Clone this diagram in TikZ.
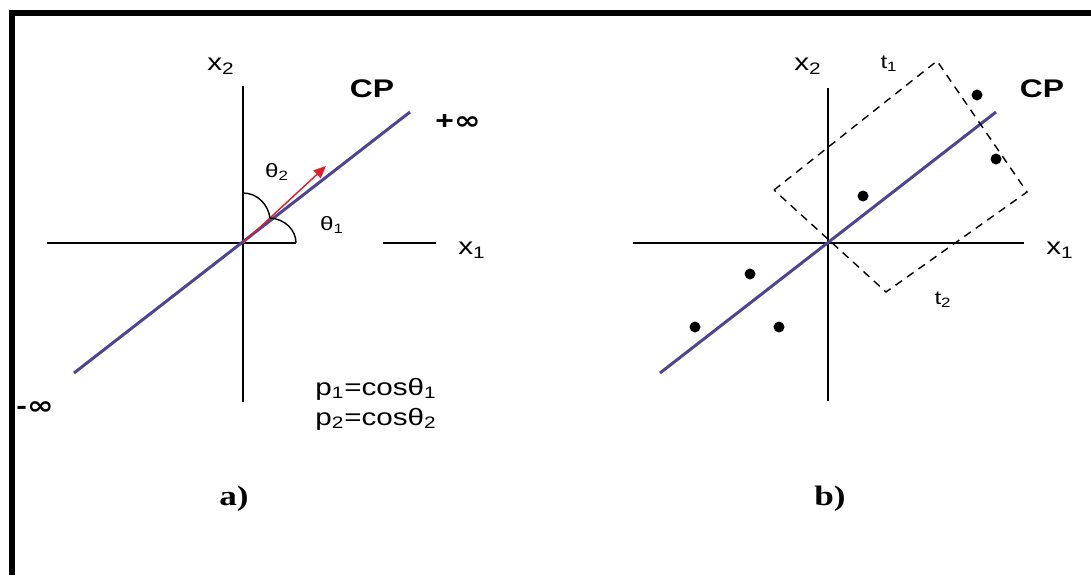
\documentclass[tikz,border=0pt]{standalone}
\usepackage{fontspec}
\setmainfont{Liberation Sans}[FakeStretch=1.25]
\newfontfamily\serifbold{Liberation Serif}[FakeStretch=1.25]
\newfontfamily\symfont{DejaVu Sans}[FakeStretch=1.25]
\usetikzlibrary{arrows.meta}
\definecolor{cpblue}{RGB}{78,68,148}
\definecolor{vecred}{RGB}{225,30,40}

\begin{document}
\begin{tikzpicture}[
  x=0.02cm,y=-0.02cm,
  axis/.style={line width=0.9pt},
  cpline/.style={draw=cpblue,line width=1.7pt},
  vec/.style={-{Triangle[length=7pt,width=6pt]},draw=vecred,fill=vecred,line width=0.8pt},
  angarc/.style={line width=0.8pt},
  window/.style={dash pattern=on 4.5pt off 3.5pt,line width=0.8pt},
  dot/.style={circle,fill,inner sep=0pt,minimum size=0.22cm},
  lbl/.style={inner sep=0pt,font=\fontsize{13.5}{16}\selectfont},
  small/.style={inner sep=0pt,font=\fontsize{11}{13}\selectfont},
  cp/.style={inner sep=0pt,font=\fontsize{14.5}{17}\selectfont\bfseries},
  panel/.style={inner sep=0pt,font=\fontsize{16}{18}\selectfont\serifbold\bfseries},
]
\useasboundingbox (0,0) rectangle (1091,575);

% Frame
\fill (9,10) rectangle (1091,16);
\fill (9,10) rectangle (15,575);

% Panel a: axes
\coordinate (Oa) at (243,243);
\coordinate (ax1l) at (47,243);
\coordinate (ax1r) at (296,243);
\coordinate (ax1s) at (383,243);
\coordinate (ax1e) at (436,243);
\coordinate (ax2b) at (243,402);
\coordinate (ax2t) at (243,86);
\draw[axis] (ax1l) -- (ax1r);
\draw[axis] (ax1s) -- (ax1e);
\draw[axis] (ax2b) -- (ax2t);
\node[lbl] (x2a) at (221,66) {x\textsubscript{2}};
\node[lbl] (x1a) at (472,250) {x\textsubscript{1}};

% Panel a: principal component and direction vector
\coordinate (cpal) at (74,373);
\coordinate (cpar) at (410,112);
\coordinate (tip) at (326,166);
\draw[cpline] (cpal) -- (cpar);
\draw[vec] (Oa) -- (tip);
\node[cp] (cpa) at (372,89) {CP};
\node[cp] (pinf) at (458,122) {+\symfont∞};
\node[cp] (minf) at (35,408) {-\symfont∞};

% Panel a: angles
\coordinate (arcv) at (243,193);
\coordinate (arcm) at (270,218);
\coordinate (arch) at (296,243);
\draw[angarc] (arcv) .. controls (257,193) and (268,204) .. (arcm);
\draw[angarc] (arcm) .. controls (285,219) and (296,230) .. (arch);
\node[small] (th2) at (277,172) {θ\textsubscript{2}};
\node[small] (th1) at (332,225) {θ\textsubscript{1}};
\node[lbl,anchor=base west] (p1) at (315,395) {p\textsubscript{1}=cosθ\textsubscript{1}};
\node[lbl,anchor=base west] (p2) at (315,425) {p\textsubscript{2}=cosθ\textsubscript{2}};
\node[panel] (capa) at (234,499) {a)};

% Panel b: axes
\coordinate (Ob) at (828,243);
\coordinate (bx1l) at (633,243);
\coordinate (bx1r) at (1024,243);
\coordinate (bx2b) at (828,401);
\coordinate (bx2t) at (828,88);
\draw[axis] (bx1l) -- (bx1r);
\draw[axis] (bx2b) -- (bx2t);
\node[lbl] (x2b) at (808,66) {x\textsubscript{2}};
\node[lbl] (x1b) at (1060,250) {x\textsubscript{1}};

% Panel b: principal component, window and samples
\coordinate (cpbl) at (660,373);
\coordinate (cpbr) at (996,112);
\draw[cpline] (cpbl) -- (cpbr);
\node[cp] (cpb) at (1042,89) {CP};
\coordinate (wl) at (774,190);
\coordinate (wt) at (937,61);
\coordinate (wr) at (1027,192);
\coordinate (wb) at (886,292);
\draw[window] (wl) -- (wt) -- (wr) -- (wb) -- cycle;
\node[small] (t1) at (889,64) {t\textsubscript{1}};
\node[small] (t2) at (943,300) {t\textsubscript{2}};
\foreach \px/\py [count=\i] in {977/95,996/159,863/196,750/274,695/327,779/327}
  \node[dot] (s\i) at (\px,\py) {};
\node[panel] (capb) at (830,499) {b)};

\end{tikzpicture}
\end{document}
